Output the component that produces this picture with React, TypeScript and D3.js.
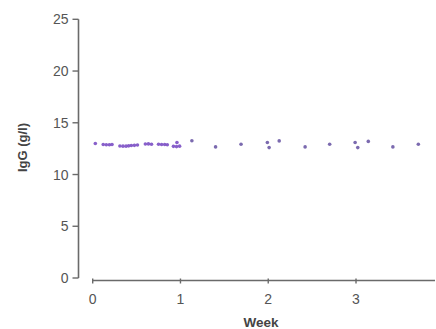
import React from "react";
import * as d3 from "d3";

const weeks = [
  0.03,
  0.12, 0.155, 0.19, 0.22,
  0.31, 0.345, 0.38, 0.41,
  0.44, 0.475, 0.51,
  0.60, 0.635, 0.67,
  0.75, 0.785, 0.82, 0.85,
  0.92, 0.955, 0.99, 0.96,
  1.13, 1.40, 1.69,
  1.99, 2.01, 2.125, 2.42,
  2.70, 2.99, 3.02, 3.14, 3.42, 3.71,
];
const igg = [
  13.0,
  12.9, 12.88, 12.87, 12.9,
  12.75, 12.74, 12.74, 12.77,
  12.8, 12.82, 12.85,
  12.95, 12.96, 12.93,
  12.92, 12.9, 12.9, 12.88,
  12.72, 12.7, 12.74, 13.1,
  13.26, 12.67, 12.93,
  13.1, 12.6, 13.25, 12.67,
  12.93, 13.1, 12.6, 13.2, 12.67, 12.93,
];
const yTicks = [0, 5, 10, 15, 20, 25];
const xTicks = [0, 1, 2, 3];

export default function App() {
  const W = 436, H = 329;
  const x = d3.scaleLinear().domain([0, 3.9]).range([92.7, 435]);
  const y = d3.scaleLinear().domain([0, 25]).range([278, 19.3]);
  const axisColor = "#6a6a6a";
  const textColor = "#555";
  const font = "'Liberation Sans', Arial, sans-serif";
  const xAxisY = 280.5;
  const yAxisX = 78.5;
  return (
    <svg width={W} height={H} style={{ position: "absolute", left: 0, top: 0, background: "#fff" }}>
      <line x1={yAxisX} x2={yAxisX} y1={y(25)} y2={y(0)} stroke={axisColor} strokeWidth={1.6} />
      {yTicks.map((t) => (
        <g key={"y" + t}>
          <line x1={yAxisX - 6} x2={yAxisX} y1={y(t)} y2={y(t)} stroke={axisColor} strokeWidth={1.4} />
          <text x={68.5} y={y(t) + 5} textAnchor="end" fontSize={14} fill={textColor} fontFamily={font}>
            {t}
          </text>
        </g>
      ))}
      <line x1={x(0)} x2={x(3.9)} y1={xAxisY} y2={xAxisY} stroke={axisColor} strokeWidth={1.6} />
      {xTicks.map((t) => (
        <g key={"x" + t}>
          <line x1={x(t)} x2={x(t)} y1={xAxisY - 2} y2={xAxisY + 3} stroke={axisColor} strokeWidth={1.4} />
          <text x={x(t)} y={304} textAnchor="middle" fontSize={14} fill={textColor} fontFamily={font}>
            {t}
          </text>
        </g>
      ))}
      <text x={261} y={326.5} textAnchor="middle" fontSize={13.5} fontWeight="bold" fill="#444" fontFamily={font}>
        Week
      </text>
      <text
        transform={`translate(27,147.5) rotate(-90)`}
        textAnchor="middle"
        fontSize={13}
        fontWeight="bold"
        fill="#444"
        fontFamily={font}
      >
        IgG (g/l)
      </text>
      {weeks.map((w, i) => (
        <circle key={i} cx={x(w)} cy={y(igg[i])} r={1.8} fill={w < 1.05 ? "#7b4fc4" : "#6d5aa6"} opacity={0.9} />
      ))}
    </svg>
  );
}
